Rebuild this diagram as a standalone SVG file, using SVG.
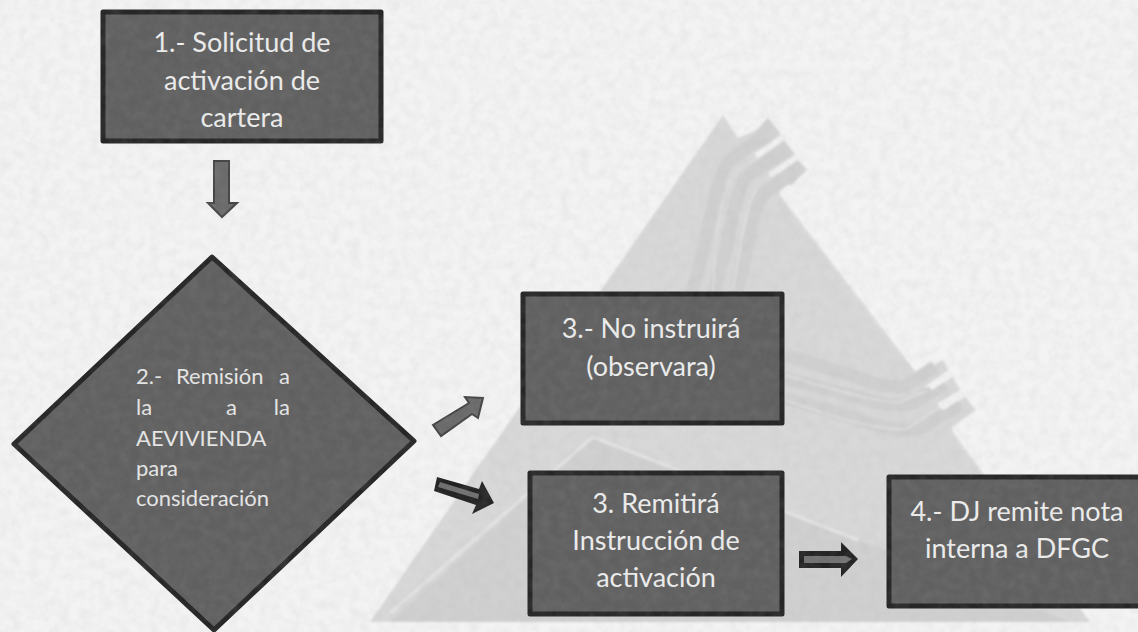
<svg xmlns="http://www.w3.org/2000/svg" width="1138" height="632" viewBox="0 0 1138 632">
<defs>
<style>
.box{fill:#606060;stroke:#262626;stroke-width:5;stroke-linejoin:round}
.t{font-family:"Lato","Liberation Sans",sans-serif;fill:#ededed;font-size:27px;text-anchor:middle}
.s{font-family:"Lato","Liberation Sans",sans-serif;fill:#e6e6e6;font-size:22px}
.e{text-anchor:end}
.arrow{fill:#6a6a6a;stroke:#444;stroke-width:2;stroke-linejoin:miter}
.dark{fill:#222}
.core{fill:#707070}
.band{fill:none;stroke:#d0d0d0;stroke-width:13}
.gap{fill:none;stroke:#dedede;stroke-width:2}
.notch{fill:none;stroke:#f1f1f1;stroke-width:6}
.strip{fill:#d2d2d2}
</style>
<filter id="grain" x="0" y="0" width="100%" height="100%">
<feTurbulence type="fractalNoise" baseFrequency="0.1" numOctaves="4" seed="4"/>
<feColorMatrix type="matrix" values="0 0 0 0 0.4  0 0 0 0 0.4  0 0 0 0 0.4  0.16 0.16 0 0 -0.12"/>
</filter>
<filter id="soft"><feGaussianBlur stdDeviation="1"/></filter>
</defs>
<rect width="1138" height="632" fill="#f3f3f3"/>
<g id="watermark" filter="url(#soft)">
<polygon fill="#d8d8d8" points="723,115 738,138 757,130 768,118 780,133 783,140 794,153 797,159 807,170 780,188 780,195 918,375 943,360 948,370 925,387 927,393 953,377 960,390 938,403 940,412 965,397 976,410 952,427 953,432 1090,622 370,622"/>
<polygon fill="#d0d0d0" points="593,437 858,540 1070,622 390,622"/>
<polygon class="strip" points="757,130 768,118 780,133 762,148"/>
<polygon class="strip" points="770,151 783,140 794,153 776,166"/>
<polygon class="strip" points="785,170 797,159 807,170 790,186"/>
<path class="band" d="M763,136 L728,162 Q716,180 706,240 L690,300"/>
<path class="band" d="M780,153 L745,178 Q735,195 726,250 L712,300"/>
<path class="band" d="M795,172 L762,195 Q752,215 745,260 L735,300"/>
<path class="gap" d="M783,140 L735,172 Q722,190 716,240 L713,290"/>
<path class="gap" d="M797,159 L760,182 Q748,200 740,250 L733,290"/>
<path class="gap" d="M728,125 L738,140"/>
<path class="gap" d="M780,197 L905,362"/>
<path class="band" d="M935,367 L905,386 Q890,390 850,375 L785,355"/>
<path class="band" d="M945,384 L915,402 Q895,410 860,398 L785,378"/>
<path class="band" d="M960,404 L925,426 Q905,436 860,420 L785,398"/>
<path class="gap" d="M927,391 L900,402 Q880,404 785,375"/>
<path class="gap" d="M940,408 L908,428 Q880,434 785,400"/>
<path class="gap" d="M953,434 L1040,552"/>
<path class="notch" d="M786,135 L756,156"/>
<path class="notch" d="M800,155 L770,175"/>
<path class="notch" d="M952,373 L930,388"/>
<path class="notch" d="M965,393 L941,408"/>
<path d="M390,613 L593,437 L858,540" fill="none" stroke="#e4e4e4" stroke-width="3"/>
</g>
<g id="connectors">
<polygon class="arrow" points="214,161 229,161 229,203 237,203 222,217 208,203 214,203"/>
<polygon class="arrow" points="433,425 441,436 472,414 478,418 483,398 465,397 469,403"/>
<polygon class="dark" points="437,477 434,491 476,505 472,514 494,503 482,481 479,489"/>
<polygon class="core" points="440,482 438,487 478,499 479,494"/>
<polygon class="dark" points="799,551 841,551 841,542 858,559 841,577 841,568 799,568"/>
<polygon class="core" points="804,556 846,556 852,559 846,563 804,563"/>
</g>
<g id="node-1">
<rect class="box" x="103" y="12" width="278" height="129"/>
<text class="t" x="242" y="52">1.- Solicitud de</text>
<text class="t" x="242" y="90">activación de</text>
<text class="t" x="242" y="127">cartera</text>
</g>
<g id="node-2">
<polygon class="box" points="212,257 414,441 214,630 14,444"/>
<text class="s" x="136" y="384">2.-</text>
<text class="s" x="176" y="384">Remisión</text>
<text class="s e" x="290" y="384">a</text>
<text class="s" x="136" y="415">la</text>
<text class="s" x="226" y="415">a</text>
<text class="s e" x="290" y="415">la</text>
<text class="s" x="136" y="446">AEVIVIENDA</text>
<text class="s" x="136" y="476">para</text>
<text class="s" x="136" y="506">consideración</text>
</g>
<g id="node-3a">
<rect class="box" x="523" y="294" width="259" height="129"/>
<text class="t" x="651" y="338">3.- No instruirá</text>
<text class="t" x="651" y="376">(observara)</text>
</g>
<g id="node-3b">
<rect class="box" x="530" y="473" width="252" height="141"/>
<text class="t" x="656" y="513">3. Remitirá</text>
<text class="t" x="656" y="550">Instrucción de</text>
<text class="t" x="656" y="587">activación</text>
</g>
<g id="node-4">
<rect class="box" x="889" y="477" width="252" height="129"/>
<text class="t" x="1017" y="521">4.- DJ remite nota</text>
<text class="t" x="1017" y="558">interna a DFGC</text>
</g>
<rect id="paper-grain" width="1138" height="632" filter="url(#grain)"/>
</svg>
